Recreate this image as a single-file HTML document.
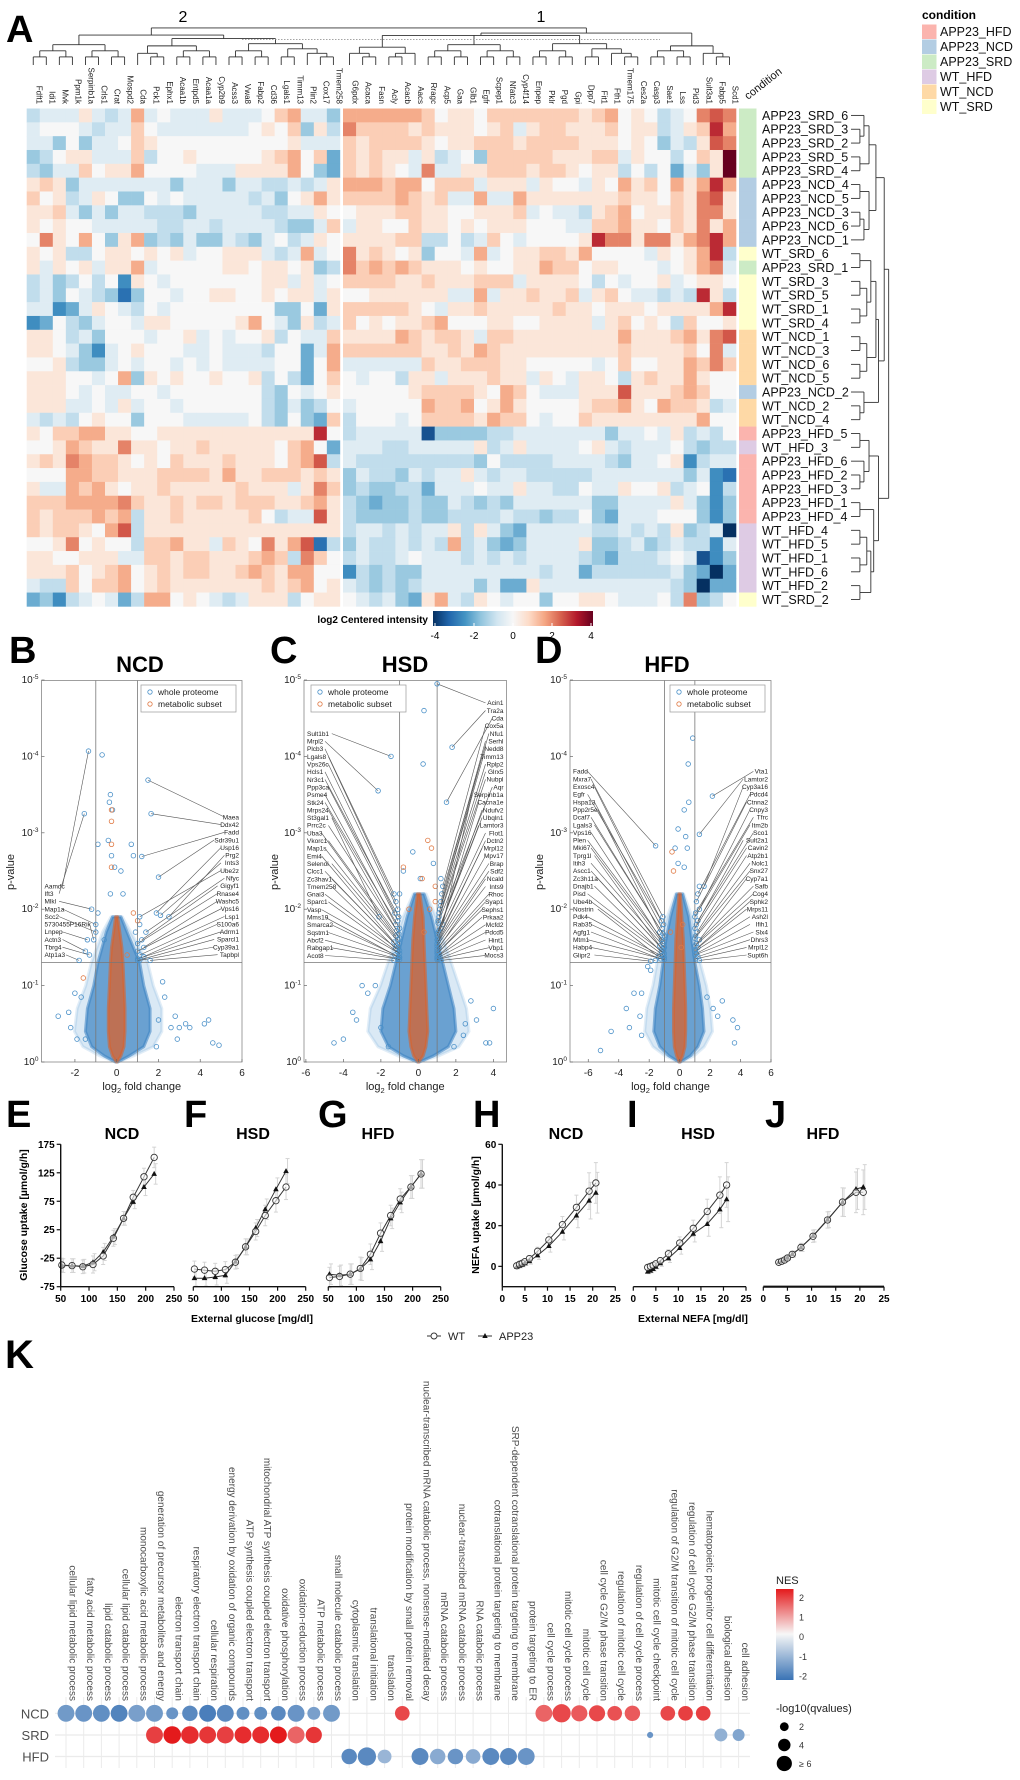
<!DOCTYPE html>
<html><head><meta charset="utf-8"><title>Figure</title>
<style>
html,body{margin:0;padding:0;background:#fff;}
svg{display:block;font-family:"Liberation Sans",Arial,sans-serif;}
</style></head>
<body>
<svg id="fig" xmlns="http://www.w3.org/2000/svg" width="1020" height="1780" viewBox="0 0 1020 1780">
<rect x="0" y="0" width="1020" height="1780" fill="#fff"/>
</svg>
<script>
// ================= DATA =================
// Heatmap (A): letters encode log2 centered intensity: I=0, each letter step = 0.5 (A=-4, Q=4)
const hmLeftCols = ["Fdft1","Idi1","Mvk","Ppm1k","Serpinb1a","Crls1","Crat","Mospd2","Cda","Pck1","Ephx1","Acaa1b","Entpd5","Acaa1a","Cyp2b9","Acss3","Vwa8","Fabp2","Cd36","Lgals1","Timm13","Plin2","Cox17","Tmem258"];
const hmRightCols = ["G6pdx","Acaca","Fasn","Acly","Acacb","Aacs","Rragc","Acp5","Gaa","Glb1","Egfr","Scpep1","Nfatc3","Cyp4f14","Enpep","Pklr","Pgd","Gpi","Dpp7","Fit1","Fth1","Tmem175","Ces2a","Casp3","Sae1","Lss","Pid3","Sult3a1","Fabp5","Scd1"];
const hmRowLabels = ["APP23_SRD_6","APP23_SRD_3","APP23_SRD_2","APP23_SRD_5","APP23_SRD_4","APP23_NCD_4","APP23_NCD_5","APP23_NCD_3","APP23_NCD_6","APP23_NCD_1","WT_SRD_6","APP23_SRD_1","WT_SRD_3","WT_SRD_5","WT_SRD_1","WT_SRD_4","WT_NCD_1","WT_NCD_3","WT_NCD_6","WT_NCD_5","APP23_NCD_2","WT_NCD_2","WT_NCD_4","APP23_HFD_5","WT_HFD_3","APP23_HFD_6","APP23_HFD_2","APP23_HFD_3","APP23_HFD_1","APP23_HFD_4","WT_HFD_4","WT_HFD_5","WT_HFD_1","WT_HFD_6","WT_HFD_2","WT_SRD_2"];
const hmLeft = [
"G H H H J H G H L H I H H H J H H H I K L H H F",
"H I I I H G H H K I H H H H H H H I J I K F J G",
"H H F I F H H I K J I I I I I I I I I I J H H H",
"F G I J J H H H K G I I J I I I I I J K L I K E",
"G F H H K I J J L I I I I H H H J J J J L I F E",
"J K J F H H H H H H H F H H H F H H G G H G H J",
"K I J G H J I F F I H I H H H H H G H F I J L J",
"J J K H F H F H H G G G F H H H H H G G H H J I",
"J I J I I H H H H H G G H H G H H H H G F F H K",
"I M J I L I F J L F G F H F F H G F H I G H J I",
"J I J G G I J J I J I J H I I J J J H G H L H I",
"J H J I J H J J L H I I I I I J J I J J I J F G",
"G H F G I G I D J I H I I I I I I I J J H J H I",
"G H F I H G F C F I I H I I J J I I J I J J H J",
"H H D E H J I H G I H I I I I I I I I F F I E J",
"D E I G F H I I H J J I I I I I J L I H F J G H",
"J J I G H F I I I H I I J H I H I I J G I H H K",
"J J I H F D H I J I I I H H I H H H G I I E H L",
"I I J G F F H I H I I H I H I H H H H I I E I L",
"J J J I I H I L F J I J I I J I I J G I G E I K",
"J J J I H I H H I I H I I I I I I I G F I H I J",
"J J J H H I H J H I I H I I I I I I G F H F G I",
"H G H G I J I I F I I I H H H H H I G F I F E K",
"J I K K L L J J I I J J J J J J J J J J J J O I",
"I I J L K J J M J J I J J K J J J J J I K L I E",
"J K J M L K K J I J I K J J J K J J J I K L N G",
"I I I L L K K J J J K K K K J L J J K K K J K J",
"J H H L K L J I J J K J J J J J K J J J H J M K",
"K K K L L L L M K J J K J K K J K K K J J K L J",
"K J K K K L K L G J J K J J J J J K I G H H N J",
"K J K K J I L N G J J J J J J J J J J J J J J J",
"I I J M I J I I G K K L J J H K J I M J L N C G",
"J J I I J J J H H K K J K K J J J K L K G M K I",
"J J J K I J K L I J K J K K J J K L K J L L I I",
"H G G K I K K L I J K J J J J J J J K J K L I J",
"E F D G H I H E G L L I J I H G H J J J G I J J"];
const hmRight = [
"L L L L L L K I J J I K K K K K K K J K L I J I G H I M N M",
"M K K K K J K J J J I J K H J K K J J J K I J J G H J K O L",
"K J K K K K J I J J K K K J K K K K J J J I J I F H G J N M",
"K J K J J H J G H I F K K K K K J J J K K H J I I G I K J Q",
"K J K J I H M H H J J K K K J K K J I J J G I G I E H F J Q",
"L L L K L L I K K K H J J J H J I I H J I L J K I L J L O L",
"K K K K L K J K H H L H H L J J J J J J J K J J I K J M N J",
"I J J J K K J J I I J J J K H I H H G J K L I J J K J M M J",
"H J J I I K J J I J I J J J I I I H H K K L J J I K J M J L",
"J J J J K K G G I G H K I H I I I I J O M M J M M J L M O L",
"M J K J I J F I I H L H I J J K K J L I I I I H J I J L O G",
"M K L K L K J J J I J I I J J L K K I J J I I I H I J L M H",
"K K K K J J K J J J K K K H J J J J I G I H I I J H I J J I",
"I I J J J J J J H H L H J J K J J K H J K I H H G H G O J G",
"K K K K K J I H J J K J J J J J K J J I J J J I J J J J L O",
"K I J I J J K L I I I J J I I J J J J H J K I J I G K I I J",
"J J J J L K J K K J H K K J J J J J J J J L J J J K L J M N",
"K K K K K K J J K J L K J J J J J J J J J K J J J J K I M H",
"H H H H H H K J J K K K J J I I I I I H I K I I J J L K M K",
"I H I I G J J H J J J K J J H J I H J J I G J K J J L J I I",
"I I I I I J K K K K J I L K I H H H J J J N J J J K L K I I",
"H I I I I I L K K L I J L J I I I I J K K L J I L K K J G H",
"G I I I H I K K K K J L K K I H I I K J J J J J J J J L I I",
"G H H H H H B F F F F G G H H H H H H H F H H I H J G H G I",
"H H H G G H H H H H J G H J H H H H I J H G H H H I G F G G",
"H G G G G G G G G G F I G G G G H H H H G F H H I J D G H H",
"F H G G F H G H H J H G H H G G G G G H H H H H H H F H D C",
"F G F F G G E H H H I H H J H H G G I H H J I I J G H I D G",
"G F E F F G F F H G F G F H H H H H H F F H H H H J H F D F",
"G F F F F G F F G G G G H G G F G G I F E H H H I I I F D F",
"G H H G H G H H J G J H F E H H H H H G G H G H G J F G H A",
"F H G G H G H G L G H F E F H H H H J F F G H F G H G G D H",
"G H G G H I H H H G H G H G H H H H G F E G G G H I H B D F",
"D G F G F F H H H H H H H H H G H H E G G G G G G H F E A E",
"H G F G F G H H H H F H E E J H H H H H H H H H H G F A E E",
"I H G H F E J L H G J I H I I F I I J J I H H H I G M F G I"];
const conditionNames = ["APP23_HFD","APP23_NCD","APP23_SRD","WT_HFD","WT_NCD","WT_SRD"];
const conditionColors = ["#fbb4ae","#b3cde3","#ccebc5","#decbe4","#fed9a6","#ffffcc"];
const hmColTree = [[[[[0,1],[2,3]],[[4,5],[6,7]]],[[[8,[9,10]],[[11,12],[13,14]]],[[[15,16],[17,18]],[[19,20],[21,[22,23]]]]]],
  [[[[24,[25,26]],[[27,28],29]],[[[30,31],[32,33]],[[34,35],[36,37]]],[[[38,39],[40,41]],[[42,43],[44,[45,46]]]]],[[[47,48],[49,50]],[51,[52,53]]]]];
const hmRowTree = [[[[[0,[1,2]],[3,4]],[[5,6],[[7,8],9]]],[[[[10,11],[[12,13],[14,15]]],[[16,17],[18,19]]],[20,[21,22]]]],[[[23,24],[25,[26,27]]],[[28,29],[[[30,31],[32,33]],[34,35]]]]];

// Volcano B (NCD)
const bCoreNlp = [0,0.08,0.2,0.4,0.7,1.0,1.3,1.5,1.7,1.9];
const bCoreLo = [-0.05,-0.6,-1.2,-1.5,-1.4,-1.1,-0.9,-0.7,-0.5,-0.2];
const bCoreHi = [0.05,0.6,1.3,1.6,1.6,1.3,1.1,0.8,0.5,0.2];
const bMetLo = [-0.02,-0.2,-0.35,-0.4,-0.4,-0.35,-0.3,-0.25,-0.15,-0.05];
const bMetHi = [0.02,0.2,0.35,0.4,0.4,0.35,0.3,0.25,0.15,0.05];
const bOutFc = [-0.7,-0.3,-0.35,-0.2,-0.4,-0.9,-0.25,0.7,0.8,-0.1,0.2,-0.3,0.3,-0.9,1.1,-0.6,0.9,2.2,-2.0,-2.8,-2.3,-1.7,3.3,4.2,4.4,4.6,4.9,2.6,3.0,2.9,2.3,-1.9,-1.5,1.9,2.8,3.5,-2.2,2.0];
const bOutNlp = [4.02,3.5,3.4,3.3,2.9,2.85,2.7,2.85,2.7,2.55,2.5,2.2,2.2,1.95,1.8,1.6,1.7,1.05,0.9,0.6,0.65,0.85,0.5,0.5,0.55,0.25,0.22,0.45,0.45,0.3,0.85,0.3,0.3,0.2,0.6,0.45,0.45,0.55];
const bMetOutFc = [-0.25,-0.25,-0.25,-0.25,0.8,1.0,-1.6,0.5];
const bMetOutNlp = [3.3,3.15,2.85,2.55,1.95,1.85,1.1,1.4];
const bLabR = ["Maea","Ddx42","Fadd","Sdr39u1","Usp16","Prg2","Ints3","Ube2z","Nfyc","Gigyf1","Rnase4","Washc5","Vps16","Lsp1","S100a6","Adrm1","Sparcl1","Cyp39a1","Tapbpl"];
const bLabRFc = [1.5,1.65,1.2,2.0,1.9,2.5,2.1,1.1,1.4,1.2,1.0,1.3,1.0,1.1,1.3,1.0,1.0,1.1,1.6];
const bLabRNlp = [3.69,3.25,2.69,2.42,1.95,1.9,1.92,1.9,1.7,1.6,1.55,1.5,1.45,1.4,1.38,1.35,1.33,1.33,1.33];
const bLabL = ["Aamdc","Ift3","Mlkl","Map1a","Scc2","5730455P16Rik","Lnpep","Actn3","Tbrg4","Atp1a3"];
const bLabLFc = [-1.35,-1.55,-1.2,-1.0,-1.0,-1.1,-1.4,-1.5,-1.3,-1.8];
const bLabLNlp = [4.07,3.25,2.0,1.8,1.7,1.6,1.6,1.45,1.4,1.33];

// Volcano C (HSD)
const cCoreNlp = [0,0.08,0.2,0.4,0.7,1.0,1.3,1.6,1.9,2.2];
const cCoreLo = [-0.05,-0.8,-1.6,-2.0,-1.9,-1.5,-1.2,-0.9,-0.6,-0.2];
const cCoreHi = [0.05,0.8,1.6,2.0,1.9,1.6,1.3,1.0,0.7,0.3];
const cMetLo = [-0.02,-0.25,-0.4,-0.5,-0.45,-0.4,-0.35,-0.3,-0.2,-0.05];
const cMetHi = [0.02,0.25,0.4,0.5,0.45,0.4,0.35,0.3,0.25,0.08];
const cOutFc = [0.3,0.25,-0.3,0.1,-0.8,0.8,1.2,-1.0,-2.7,-3.3,-4.0,-4.5,3.6,3.8,3.1,4.0,2.5,-2.3,-3.0,-2.0,2.8,-1.6,1.9,-3.5,2.4];
const cOutNlp = [4.6,3.9,2.75,2.4,2.5,2.6,2.4,2.2,0.9,0.55,0.3,0.25,0.25,0.25,0.55,0.7,0.5,1.0,1.0,0.45,0.8,0.2,0.2,0.65,0.35];
const cMetOutFc = [0.5,0.7,-0.8,0.2,0.9,0.9,0.6,-0.5,0.3];
const cMetOutNlp = [2.9,2.8,2.55,2.4,2.3,2.1,2.0,2.0,1.7];
const cLabR = ["Acin1","Tra2a","Cda","Cox5a","Nfu1","Serhl","Nedd8","Timm13","Rplp2","Glrx5","Nubpl","Aqr","Serpinb1a","Cacna1e","Ndufv2","Ubqln1","Lamtor3","Flot1","Dctn2","Mrpl12","Mpv17","Brap","Sdf2","Ncald","Ints9","Rhoc","Syap1","Sephs1","Prkaa2","Mcfd2","Pdcd5","Hint1","Vbp1","Mocs3"];
const cLabRFc = [1.0,1.8,1.5,1.3,1.25,1.2,1.2,1.15,1.1,1.1,1.05,1.05,1.3,1.2,1.1,1.05,1.0,1.0,1.1,1.0,1.05,1.0,1.0,1.1,1.0,1.0,1.05,1.0,1.1,1.0,1.0,1.1,1.0,1.2];
const cLabRNlp = [4.95,4.12,3.4,2.3,2.2,2.1,2.05,2.0,1.95,1.9,1.85,1.82,1.8,1.75,1.72,1.7,1.68,1.65,1.62,1.6,1.58,1.55,1.52,1.5,1.48,1.45,1.43,1.42,1.4,1.38,1.36,1.35,1.34,1.33];
const cLabL = ["Sult1b1","Mrpl2","Plcb3","Lgals8","Vps26c","Hcls1","Nr3c1","Ppp3ca","Psme4","Stk24","Mrps24","St3gal1","Prrc2c","Uba3","Vkorc1","Map1s","Emi4","Selenoi","Clcc1","Zc3hav1","Tmem258","Gnai3","Sparc1","Vasp","Mms19","Smarca2","Sqstm1","Abcf2","Rabgap1","Acot8"];
const cLabLFc = [-1.46,-2.15,-1.3,-1.2,-1.1,-1.25,-1.05,-1.1,-1.2,-1.0,-1.15,-2.1,-1.05,-1.2,-1.0,-1.1,-1.3,-1.0,-1.15,-1.05,-1.2,-1.0,-1.1,-1.0,-1.25,-1.05,-1.0,-1.1,-1.0,-1.3];
const cLabLNlp = [4.0,3.55,2.2,2.1,2.0,1.95,1.9,1.85,1.8,1.75,1.72,1.9,1.68,1.65,1.62,1.6,1.57,1.55,1.52,1.5,1.48,1.46,1.44,1.42,1.4,1.38,1.37,1.35,1.34,1.33];

// Volcano D (HFD)
const dCoreNlp = [0,0.08,0.2,0.4,0.7,1.0,1.3,1.6,1.9,2.2];
const dCoreLo = [-0.05,-0.7,-1.3,-1.7,-1.6,-1.3,-1.1,-0.9,-0.6,-0.2];
const dCoreHi = [0.05,0.7,1.2,1.6,1.5,1.3,1.0,0.8,0.6,0.2];
const dMetLo = [-0.02,-0.2,-0.35,-0.4,-0.4,-0.35,-0.3,-0.25,-0.15,-0.05];
const dMetHi = [0.02,0.2,0.35,0.4,0.4,0.35,0.3,0.25,0.15,0.05];
const dOutFc = [0.86,0.56,0.6,0.3,-0.1,0.4,-0.3,0.5,-0.1,0.3,1.3,-5.2,-3.3,-3.5,-4.5,3.5,3.8,2.5,2.8,-2.5,-3.0,-1.9,-2.1,-2.6,1.8,2.2,3.6,-2.5];
const dOutNlp = [4.24,3.9,3.4,3.3,3.05,2.95,2.8,2.8,2.6,2.55,2.3,0.15,0.45,0.7,0.4,0.55,0.45,0.6,0.8,0.9,0.9,1.2,1.25,0.6,0.85,0.7,0.25,0.35];
const dMetOutFc = [-0.5,-0.4,0.2,-0.6,0.1];
const dMetOutNlp = [2.75,2.5,1.8,1.7,1.5];
const dLabL = ["Fadd","Mxra7","Exosc4","Egfr","Hspa13","Ppp2r5e","Dcaf7","Lgals3","Vps16","Plen","Mki67","Tprg1l","Itih3","Ascc1","Zc3h11a","Dnajb1","Pisd","Ube4b","Nostrin","Pdk4","Rab35","Agfg1","Mtm1","Habp4","Glipr2"];
const dLabLFc = [-1.58,-1.1,-1.2,-1.05,-1.15,-1.3,-1.1,-1.0,-1.2,-1.05,-1.1,-1.3,-1.0,-1.15,-1.05,-1.2,-1.0,-1.1,-1.4,-1.0,-1.05,-1.25,-1.0,-1.6,-1.9];
const dLabLNlp = [2.83,1.9,1.85,1.8,1.75,1.7,1.68,1.65,1.6,1.58,1.55,1.52,1.5,1.48,1.46,1.44,1.42,1.4,1.38,1.37,1.36,1.35,1.34,1.33,1.32];
const dLabR = ["Vta1","Lamtor2","Cyp3a16","Pdcd4","Ctnna2","Cnpy3","Tfrc","Itm2b","Sco1","Sult2a1","Cavin2","Atp2b1","Nolc1","Snx27","Cyp7a1","Safb","Cog4","Sphk2","Mrps11","Ash2l","Ifih1","Slx4","Dhrs3","Mrpl12","Supt6h"];
const dLabRFc = [2.15,1.3,1.6,1.2,1.1,1.3,1.05,1.0,1.2,1.1,1.0,1.15,1.05,1.0,1.3,1.1,1.0,1.2,1.05,1.0,1.1,1.0,1.2,1.05,1.3];
const dLabRNlp = [3.48,2.98,2.3,2.2,2.1,2.0,1.95,1.9,1.85,1.8,1.75,1.7,1.65,1.62,1.6,1.55,1.52,1.5,1.47,1.45,1.42,1.4,1.38,1.35,1.33];

// Uptake panels E-J
const glucoseX = [52,70,89,107,125,143,161,178,197,215];
const eWT = [-37,-38,-40,-36,-21,10,45,82,118,152];
const eAPP = [-38,-38,-39,-32,-14,13,45,74,100,123];
const eErr = [12,12,12,15,15,14,12,12,15,18];
const fWT = [-44,-46,-48,-45,-32,-5,22,50,76,100];
const fAPP = [-60,-60,-58,-55,-31,-5,28,61,96,128];
const fErr = [14,14,14,14,12,14,15,18,20,22];
const gWT = [-59,-57,-53,-43,-18,19,50,79,100,123];
const gAPP = [-53,-55,-53,-44,-27,5,45,73,100,123];
const gErr = [18,18,18,20,18,18,18,18,20,25];
const nefaX = [3.2,3.8,4.4,5.0,6.0,7.8,10.3,13.3,16.4,19.2,20.7];
const hWT = [0.3,1,1.5,2.3,3.8,7.4,13,20.5,29,37,41];
const hAPP = [-0.2,0.3,0.8,1.5,2.6,5.4,10,17,25,32.3,36.2];
const hErr = [1,1,1,1,1.5,2,3,4,6,9,10];
const iWT = [-0.5,0,0.5,1.3,2.8,6.2,11.5,18.7,27,35,40];
const iAPP = [-2.6,-2.1,-1.3,-0.2,1.5,3.9,9,16,20.8,28,33];
const iErr = [1,1,1,1,1.5,2,3,4,6,9,11];
const jWT = [2,2.5,3.1,4.1,5.9,9.3,14.8,22.8,31.6,36.4,36.4];
const jAPP = [2.1,2.6,3.3,4.3,6,9.3,15,23,31.5,38,39];
const jErr = [0.5,0.5,0.8,1,1.5,2,3,4,7,10,11];
const glucoseTicksY = [-75,-25,25,75,125,175];
const glucoseTicksX = [50,100,150,200,250];
const nefaTicksY = [0,20,40,60];
const nefaTicksX = [0,5,10,15,20,25];

// GSEA dot plot (K)
const goTerms = ["cellular lipid metabolic process","fatty acid metabolic process","lipid catabolic process","cellular lipid catabolic process","monocarboxylic acid metabolic process","generation of precursor metabolites and energy","electron transport chain","respiratory electron transport chain","cellular respiration","energy derivation by oxidation of organic compounds","ATP synthesis coupled electron transport","mitochondrial ATP synthesis coupled electron transport","oxidative phosphorylation","oxidation-reduction process","ATP metabolic process","small molecule catabolic process","cytoplasmic translation","translational initiation","translation","protein modification by small protein removal","nuclear-transcribed mRNA catabolic process, nonsense-mediated decay","mRNA catabolic process","nuclear-transcribed mRNA catabolic process","RNA catabolic process","cotranslational protein targeting to membrane","SRP-dependent cotranslational protein targeting to membrane","protein targeting to ER","cell cycle process","mitotic cell cycle process","mitotic cell cycle","cell cycle G2/M phase transition","regulation of mitotic cell cycle","regulation of cell cycle process","mitotic cell cycle checkpoint","regulation of G2/M transition of mitotic cell cycle","regulation of cell cycle G2/M phase transition","hematopoietic progenitor cell differentiation","biological adhesion","cell adhesion"];
const dietRows = ["NCD","SRD","HFD"];
const ncdNes = [-1.7,-1.8,-1.9,-2.1,-1.6,-1.7,-1.8,-2.0,-2.2,-2.0,-1.9,-1.9,-2.0,-1.8,-1.6,-1.7,null,null,null,1.9,null,null,null,null,null,null,null,1.6,1.9,1.7,1.9,1.8,1.7,null,1.9,2.0,2.0,null,null];
const ncdQ = [6,6,6,6,6,6,3,5,6,6,3.5,3.5,4.5,6,3.5,6,null,null,null,4.5,null,null,null,null,null,null,null,6,7,5.5,5.5,4.5,5,null,4.5,4.5,4.5,null,null];
const srdNes = [null,null,null,null,null,2.0,2.4,2.2,2.1,2.0,2.2,2.2,2.4,1.6,2.1,null,null,null,null,null,null,null,null,null,null,null,null,null,null,null,null,null,null,-1.8,null,null,null,-1.3,-1.5];
const srdQ = [null,null,null,null,null,6,6.5,6.5,6,6,6,6,6,6,5.5,null,null,null,null,null,null,null,null,null,null,null,null,null,null,null,null,null,null,0.8,null,null,null,3.5,3];
const hfdNes = [null,null,null,null,null,null,null,null,null,null,null,null,null,null,null,null,-2.0,-2.0,-1.2,null,-2.0,-1.4,-1.8,-1.4,-2.0,-2.0,-1.8,null,null,null,null,null,null,null,null,null,null,null,null];
const hfdQ = [null,null,null,null,null,null,null,null,null,null,null,null,null,null,null,null,5,7,4,null,6,5,5,4.5,6,6,6,null,null,null,null,null,null,null,null,null,null,null,null];
const nesTicks = [2,1,0,-1,-2];
const qLegend = [2,4,6];
const qLegendLabels = ["2","4","\u2265 6"];

// ================= RENDER =================
const NS = "http://www.w3.org/2000/svg";
const svg = document.getElementById("fig");
function mk(tag, parent) { const e = document.createElementNS(NS, tag); (parent || svg).appendChild(e); return e; }
function setA(e, o) { for (const k in o) e.setAttribute(k, o[k]); return e; }
function grp(name) { const g = mk("g");   return g; }
function txt(parent, x, y, s, size, extra) {
  const t = mk("text", parent); setA(t, { x: x, y: y, "font-size": size, fill: "#000" }); if (extra) setA(t, extra); t.textContent = s; return t;
}
function line(parent, x1, y1, x2, y2, stroke, w) {
  const l = mk("line", parent); setA(l, { x1: x1, y1: y1, x2: x2, y2: y2, stroke: stroke, "stroke-width": w }); return l;
}
function hex2rgb(h) { return [parseInt(h.substr(1, 2), 16), parseInt(h.substr(3, 2), 16), parseInt(h.substr(5, 2), 16)]; }
function interp(stops, cols, v) {
  if (v <= stops[0]) return cols[0]; if (v >= stops[stops.length - 1]) return cols[cols.length - 1];
  for (let i = 0; i < stops.length - 1; i++) if (v <= stops[i + 1]) {
    const t = (v - stops[i]) / (stops[i + 1] - stops[i]); const a = hex2rgb(cols[i]), b = hex2rgb(cols[i + 1]);
    return "rgb(" + a.map((c, k) => Math.round(c + (b[k] - c) * t)).join(",") + ")";
  }
}
const rdbuStops = [-4, -3.2, -2.4, -1.6, -0.8, 0, 0.8, 1.6, 2.4, 3.2, 4];
const rdbuCols = ["#053061", "#2166ac", "#4393c3", "#92c5de", "#d1e5f0", "#f7f7f7", "#fddbc7", "#f4a582", "#d6604d", "#b2182b", "#67001f"];
function hmColor(v) { return interp(rdbuStops, rdbuCols, v); }

// ---------- Panel A ----------
const gA = grp("panel-a-heatmap");
txt(gA, 6, 42, "A", 38, { "font-weight": "bold" });
const hmTop = 108.5, rowH = 13.83;
function colX(c) { return c < 24 ? 26.7 + 13.05 * c : 343 + 13.1 * (c - 24); }
function colCx(c) { return colX(c) + 6.55; }
function rowCy(r) { return hmTop + rowH * (r + 0.5); }
const allCols = hmLeftCols.concat(hmRightCols);
const cellsG = mk("g", gA);


for (let r = 0; r < hmRowLabels.length; r++) {
  let codes = hmLeft[r].split(" ").slice(0, 24); while (codes.length < 24) codes.push("I");
  let codesR = hmRight[r].split(" ").slice(0, 30); while (codesR.length < 30) codesR.push("I");
  codes = codes.concat(codesR);
  for (let c = 0; c < codes.length; c++) {
    const v = (codes[c].charCodeAt(0) - 73) * 0.5;
    const rc = mk("rect", cellsG);
    setA(rc, { x: colX(c).toFixed(2), y: (hmTop + rowH * r).toFixed(2), width: (c < 24 ? 13.05 : 13.1) + 0.3, height: rowH + 0.3, fill: hmColor(v) });
    
    
  }
}
for (let c = 0; c < allCols.length; c++) {
  const t = txt(gA, 0, 0, allCols[c], 8, { transform: "translate(" + (colCx(c) + 3).toFixed(1) + ",104) rotate(90)", "text-anchor": "end", fill: "#222" });
  
  
}
for (let r = 0; r < hmRowLabels.length; r++) {
  const lab = hmRowLabels[r]; const cond = lab.substring(0, lab.lastIndexOf("_"));
  const rc = mk("rect", gA);
  setA(rc, { x: 739, y: (hmTop + rowH * r).toFixed(2), width: 17.5, height: rowH + 0.3, fill: conditionColors[conditionNames.indexOf(cond)] });
  
  
  const t = txt(gA, 762, rowCy(r) + 4.5, lab, 12.5, { fill: "#111" });
  
  
}
const condT = txt(gA, 0, 0, "condition", 11, { transform: "translate(748,100) rotate(-38)", fill: "#111" });


function treeSize(n) { return Array.isArray(n) ? n.reduce((s, k) => s + treeSize(k), 0) : 1; }
function drawColTree(n, g) {
  if (!Array.isArray(n)) return { p: colCx(n), h: 65 };
  const kids = n.map(k => drawColTree(k, g));
  const h = 63 - 6.1 * Math.log2(treeSize(n));
  kids.forEach(k => line(g, k.p, k.h, k.p, h, "#333", 0.9));
  const ps = kids.map(k => k.p);
  line(g, Math.min(...ps), h, Math.max(...ps), h, "#333", 0.9);
  return { p: (Math.min(...ps) + Math.max(...ps)) / 2, h: h };
}
const gColDend = mk("g", gA);


drawColTree(hmColTree, gColDend);
const dotted = line(gA, 242, 39.5, 660, 39.5, "#888", 0.8); dotted.setAttribute("stroke-dasharray", "1.5,1.5");

function drawRowTree(n, g) {
  if (!Array.isArray(n)) return { p: rowCy(n), h: 851 };
  const kids = n.map(k => drawRowTree(k, g));
  const h = 853 + 6.9 * Math.log2(treeSize(n));
  kids.forEach(k => line(g, k.h, k.p, h, k.p, "#333", 0.9));
  const ps = kids.map(k => k.p);
  line(g, h, Math.min(...ps), h, Math.max(...ps), "#333", 0.9);
  return { p: (Math.min(...ps) + Math.max(...ps)) / 2, h: h };
}
const gRowDend = mk("g", gA);


drawRowTree(hmRowTree, gRowDend);
txt(gA, 183, 22, "2", 16, { "text-anchor": "middle" });
txt(gA, 541, 22, "1", 16, { "text-anchor": "middle" });
const gLeg = grp("condition-legend");
txt(gLeg, 922, 19, "condition", 12, { "font-weight": "bold" });
for (let i = 0; i < conditionNames.length; i++) {
  const rc = mk("rect", gLeg); setA(rc, { x: 922, y: 24.5 + 15 * i, width: 14.5, height: 14.5, fill: conditionColors[i] });
  
  
  const t = txt(gLeg, 940, 36 + 15 * i, conditionNames[i], 12.5, { fill: "#111" });
  
  
}
const gCb = grp("heatmap-colorbar");
const defs = mk("defs");
const lg = mk("linearGradient", defs); setA(lg, { id: "rdbu", x1: "0", x2: "1", y1: "0", y2: "0" });
for (let i = 0; i < rdbuStops.length; i++) { const s = mk("stop", lg); setA(s, { offset: ((rdbuStops[i] + 4) / 8 * 100) + "%", "stop-color": rdbuCols[i] }); }
const cbr = mk("rect", gCb); setA(cbr, { x: 433, y: 611, width: 160, height: 15, fill: "url(#rdbu)" });

txt(gCb, 428, 623, "log2 Centered intensity", 10, { "text-anchor": "end", "font-weight": "bold" });
[-4, -2, 0, 2, 4].forEach(v => {
  const x = 435 + (v + 4) * 19.5;
  line(gCb, x, 623, x, 626, "#fff", 1);
  const t = txt(gCb, x, 639, String(v), 10, { "text-anchor": "middle" });
  
});

// ---------- Volcano plots B, C, D ----------
function volcano(cfg) {
  const g = grp(cfg.name);
  const y0 = 680.5, y1 = 1062;
  const sx = v => cfg.x0 + (v - cfg.dmin) / (cfg.dmax - cfg.dmin) * (cfg.x1 - cfg.x0);
  const sy = nlp => y1 - nlp * 76.4;
  txt(g, cfg.letterX, 663, cfg.letter, 38, { "font-weight": "bold" });
  txt(g, cfg.titleX, 672, cfg.title, 22, { "font-weight": "bold", "text-anchor": "middle" });
  function poly(nlp, lo, hi, fill, op, name) {
    const pts = [];
    for (let i = 0; i < nlp.length; i++) pts.push(sx(lo[i]).toFixed(1) + "," + sy(nlp[i]).toFixed(1));
    for (let i = nlp.length - 1; i >= 0; i--) pts.push(sx(hi[i]).toFixed(1) + "," + sy(nlp[i]).toFixed(1));
    const p = mk("polygon", g); setA(p, { points: pts.join(" "), fill: fill, "fill-opacity": op, stroke: fill, "stroke-opacity": op * 0.8, "stroke-width": 3, "stroke-linejoin": "round" });
    
    
  }
  poly(cfg.coreNlp, cfg.coreLo.map(v => v * 1.35), cfg.coreHi.map(v => v * 1.35), "#6aa6d6", 0.25, "whole-proteome-halo");
  poly(cfg.coreNlp, cfg.coreLo, cfg.coreHi, "#3a82c2", 0.7, "whole-proteome-density");
  poly(cfg.coreNlp, cfg.metLo, cfg.metHi, "#d9622b", 0.75, "metabolic-subset-density");
  for (let i = 0; i < cfg.outFc.length; i++) {
    const c = mk("circle", g); setA(c, { cx: sx(cfg.outFc[i]).toFixed(1), cy: sy(cfg.outNlp[i]).toFixed(1), r: 2.3, fill: "none", stroke: "#4a90c8", "stroke-width": 0.8 });
    
    
  }
  for (let i = 0; i < cfg.metFc.length; i++) {
    const c = mk("circle", g); setA(c, { cx: sx(cfg.metFc[i]).toFixed(1), cy: sy(cfg.metNlp[i]).toFixed(1), r: 2.3, fill: "none", stroke: "#e07a45", "stroke-width": 0.8 });
    
    
  }
  const fr = mk("rect", g); setA(fr, { x: cfg.x0, y: y0, width: cfg.x1 - cfg.x0, height: y1 - y0, fill: "none", stroke: "#888", "stroke-width": 0.8 });
  
  [-1, 1].forEach(v => { const l = line(g, sx(v), y0, sx(v), y1, "#777", 0.8);  });
  const hl = line(g, cfg.x0, sy(1.301), cfg.x1, sy(1.301), "#777", 0.8); 
  for (let e = 0; e <= 5; e++) {
    const y = sy(e);
    line(g, cfg.x0, y, cfg.x0 + 3, y, "#666", 0.7);
    const t = txt(g, cfg.x0 - 3, y + 3, "10", 10, { "text-anchor": "end", fill: "#222" });
    const ts = mk("tspan", t); setA(ts, { dy: -4, "font-size": 6.5 }); ts.textContent = e === 0 ? "0" : "-" + e;
    
  }
  cfg.ticks.forEach(v => {
    line(g, sx(v), y1, sx(v), y1 - 3, "#666", 0.7);
    const t = txt(g, sx(v), 1076, String(v), 10, { "text-anchor": "middle", fill: "#222" });
    
  });
  const xl = txt(g, (cfg.x0 + cfg.x1) / 2, 1090, "log", 11, { "text-anchor": "middle", fill: "#222" });
  const sub = mk("tspan", xl); setA(sub, { dy: 3, "font-size": 7.5 }); sub.textContent = "2";
  const rest = mk("tspan", xl); setA(rest, { dy: -3 }); rest.textContent = " fold change";
  
  txt(g, 0, 0, "p-value", 11, { transform: "translate(" + cfg.ylabX + ",872) rotate(-90)", "text-anchor": "middle", fill: "#222" });
  function labels(names, fc, nlp, side, yStart) {
    for (let i = 0; i < names.length; i++) {
      const ly = yStart + 7.65 * i; const w = names[i].length * 3.4;
      const lx = side === "L" ? cfg.x0 + 3 : cfg.x1 - 3;
      const t = txt(g, lx, ly + 2.3, names[i], 6.5, { "text-anchor": side === "L" ? "start" : "end", fill: "#222" });
      
      
      const lsx = side === "L" ? lx + w + 1 : lx - w - 1;
      const l = line(g, lsx.toFixed(1), ly.toFixed(1), sx(fc[i]).toFixed(1), sy(nlp[i]).toFixed(1), "#555", 0.6);
      
      const c = mk("circle", g); setA(c, { cx: sx(fc[i]).toFixed(1), cy: sy(nlp[i]).toFixed(1), r: 2.3, fill: "none", stroke: "#4a90c8", "stroke-width": 0.8 });
      
    }
  }
  labels(cfg.labL, cfg.labLFc, cfg.labLNlp, "L", cfg.lStart);
  labels(cfg.labR, cfg.labRFc, cfg.labRNlp, "R", cfg.rStart);
  const lgx = cfg.legX;
  const lr = mk("rect", g); setA(lr, { x: lgx, y: 685, width: 95, height: 27, fill: "#fff", stroke: "#999", "stroke-width": 0.7 });
  
  const c1 = mk("circle", g); setA(c1, { cx: lgx + 9, cy: 692, r: 2.2, fill: "none", stroke: "#4a90c8", "stroke-width": 0.8 });
  
  const c2 = mk("circle", g); setA(c2, { cx: lgx + 9, cy: 704, r: 2.2, fill: "none", stroke: "#e07a45", "stroke-width": 0.8 });
  
  txt(g, lgx + 17, 695, "whole proteome", 8.5, { fill: "#222" });
  txt(g, lgx + 17, 707, "metabolic subset", 8.5, { fill: "#222" });
}
volcano({ name: "panel-b-volcano-ncd", letter: "B", letterX: 9, title: "NCD", titleX: 140, ylabX: 14, x0: 41.5, x1: 242, dmin: -3.6, dmax: 6, ticks: [-2, 0, 2, 4, 6], legX: 141,
  coreNlp: bCoreNlp, coreLo: bCoreLo, coreHi: bCoreHi, metLo: bMetLo, metHi: bMetHi, outFc: bOutFc, outNlp: bOutNlp, metFc: bMetOutFc, metNlp: bMetOutNlp,
  labL: bLabL, labLFc: bLabLFc, labLNlp: bLabLNlp, labR: bLabR, labRFc: bLabRFc, labRNlp: bLabRNlp, lStart: 886, rStart: 817 });
volcano({ name: "panel-c-volcano-hsd", letter: "C", letterX: 270, title: "HSD", titleX: 405, ylabX: 278, x0: 304, x1: 506.5, dmin: -6.1, dmax: 4.7, ticks: [-6, -4, -2, 0, 2, 4], legX: 311,
  coreNlp: cCoreNlp, coreLo: cCoreLo, coreHi: cCoreHi, metLo: cMetLo, metHi: cMetHi, outFc: cOutFc, outNlp: cOutNlp, metFc: cMetOutFc, metNlp: cMetOutNlp,
  labL: cLabL, labLFc: cLabLFc, labLNlp: cLabLNlp, labR: cLabR, labRFc: cLabRFc, labRNlp: cLabRNlp, lStart: 733.6, rStart: 702.9 });
volcano({ name: "panel-d-volcano-hfd", letter: "D", letterX: 535, title: "HFD", titleX: 667, ylabX: 543, x0: 570, x1: 771, dmin: -7.2, dmax: 6, ticks: [-6, -4, -2, 0, 2, 4, 6], legX: 670,
  coreNlp: dCoreNlp, coreLo: dCoreLo, coreHi: dCoreHi, metLo: dMetLo, metHi: dMetHi, outFc: dOutFc, outNlp: dOutNlp, metFc: dMetOutFc, metNlp: dMetOutNlp,
  labL: dLabL, labLFc: dLabLFc, labLNlp: dLabLNlp, labR: dLabR, labRFc: dLabRFc, labRNlp: dLabRNlp, lStart: 771.4, rStart: 771.4 });

// ---------- Uptake line panels E-J ----------
function uptake(cfg) {
  const g = grp(cfg.name);
  const yB = 1286.7, yT = 1144.3;
  const sx = v => cfg.x0 + (v - cfg.dmin) / (cfg.dmax - cfg.dmin) * (cfg.x1 - cfg.x0);
  const sy = v => yB - (v - cfg.ymin) / (cfg.ymax - cfg.ymin) * (yB - yT);
  txt(g, cfg.letterX, 1127, cfg.letter, 38, { "font-weight": "bold" });
  txt(g, cfg.titleX, 1139, cfg.title, 16, { "font-weight": "bold", "text-anchor": "middle" });
  [cfg.wt, cfg.app].forEach(series => {
    for (let i = 0; i < cfg.xs.length; i++) {
      const x = sx(cfg.xs[i]) + (series === cfg.app ? 1.5 : 0);
      const e1 = line(g, x, sy(series[i] - cfg.err[i]), x, sy(series[i] + cfg.err[i]), "#d4d4d4", 1);
      
      line(g, x - 2, sy(series[i] + cfg.err[i]), x + 2, sy(series[i] + cfg.err[i]), "#d4d4d4", 1);
      line(g, x - 2, sy(series[i] - cfg.err[i]), x + 2, sy(series[i] - cfg.err[i]), "#d4d4d4", 1);
    }
  });
  [[cfg.wt, "wt-line"], [cfg.app, "app23-line"]].forEach(([series, nm]) => {
    const pl = mk("polyline", g);
    setA(pl, { points: cfg.xs.map((x, i) => sx(x).toFixed(1) + "," + sy(series[i]).toFixed(1)).join(" "), fill: "none", stroke: "#333", "stroke-width": 1 });
    
    
  });
  for (let i = 0; i < cfg.xs.length; i++) {
    const x = sx(cfg.xs[i]), y = sy(cfg.app[i]);
    const tri = mk("polygon", g); setA(tri, { points: x + "," + (y - 3) + " " + (x - 2.8) + "," + (y + 2) + " " + (x + 2.8) + "," + (y + 2), fill: "#111" });
    
    
    const c = mk("circle", g); setA(c, { cx: x, cy: sy(cfg.wt[i]), r: 3.2, fill: "#fff", "fill-opacity": 0.6, stroke: "#333", "stroke-width": 0.9 });
    
    
  }
  const xa = line(g, cfg.x0, yB, cfg.x1, yB, "#111", cfg.axisW || 1.4); 
  cfg.ticksX.forEach(v => {
    line(g, sx(v), yB, sx(v), yB + 4, "#111", 1.2);
    const t = txt(g, sx(v), 1302, String(v), 10, { "text-anchor": "middle", "font-weight": "bold" });
    
  });
  if (cfg.yaxis) {
    const ya = line(g, cfg.x0, yT, cfg.x0, yB, "#111", 1.4); 
    cfg.ticksY.forEach(v => {
      line(g, cfg.x0 - 4, sy(v), cfg.x0, sy(v), "#111", 1.2);
      const t = txt(g, cfg.x0 - 6, sy(v) + 3.5, String(v), 10, { "text-anchor": "end", "font-weight": "bold" });
      
    });
    txt(g, 0, 0, cfg.ylab, 10.5, { transform: "translate(" + cfg.ylabX + ",1215) rotate(-90)", "text-anchor": "middle", "font-weight": "bold" });
  }
}
uptake({ name: "panel-e-glucose-ncd", letter: "E", letterX: 6, title: "NCD", titleX: 122, x0: 60.7, x1: 174, dmin: 50, dmax: 250, ymin: -75, ymax: 175, xs: glucoseX, wt: eWT, app: eAPP, err: eErr, ticksX: glucoseTicksX, ticksY: glucoseTicksY, yaxis: true, ylab: "Glucose uptake [\u00b5mol/g/h]", ylabX: 27 });
uptake({ name: "panel-f-glucose-hsd", letter: "F", letterX: 184, title: "HSD", titleX: 253, x0: 193.3, x1: 305.7, dmin: 50, dmax: 250, ymin: -75, ymax: 175, xs: glucoseX, wt: fWT, app: fAPP, err: fErr, ticksX: glucoseTicksX });
uptake({ name: "panel-g-glucose-hfd", letter: "G", letterX: 318, title: "HFD", titleX: 378, x0: 328.3, x1: 440.7, dmin: 50, dmax: 250, ymin: -75, ymax: 175, xs: glucoseX, wt: gWT, app: gAPP, err: gErr, ticksX: glucoseTicksX });
uptake({ name: "panel-h-nefa-ncd", letter: "H", letterX: 473, title: "NCD", titleX: 566, x0: 502.3, x1: 615.3, dmin: 0, dmax: 25, ymin: -10, ymax: 60, xs: nefaX, wt: hWT, app: hAPP, err: hErr, ticksX: nefaTicksX, ticksY: nefaTicksY, yaxis: true, ylab: "NEFA uptake [\u00b5mol/g/h]", ylabX: 479 });
uptake({ name: "panel-i-nefa-hsd", letter: "I", letterX: 627, title: "HSD", titleX: 698, x0: 633.3, x1: 746, dmin: 0, dmax: 25, ymin: -10, ymax: 60, xs: nefaX, wt: iWT, app: iAPP, err: iErr, ticksX: nefaTicksX });
uptake({ name: "panel-j-nefa-hfd", letter: "J", letterX: 765, title: "HFD", titleX: 823, x0: 763.3, x1: 884, dmin: 0, dmax: 25, ymin: -10, ymax: 60, xs: nefaX, wt: jWT, app: jAPP, err: jErr, ticksX: nefaTicksX, axisW: 2.2 });
txt(svg, 252, 1322, "External glucose [mg/dl]", 10.5, { "text-anchor": "middle", "font-weight": "bold" });
txt(svg, 693, 1322, "External NEFA [mg/dl]", 10.5, { "text-anchor": "middle", "font-weight": "bold" });
const gUL = grp("uptake-legend");
line(gUL, 427, 1336, 441, 1336, "#333", 1);
const lwc = mk("circle", gUL); setA(lwc, { cx: 434, cy: 1336, r: 3, fill: "#fff", stroke: "#333", "stroke-width": 0.9 });

txt(gUL, 448, 1340, "WT", 11, { fill: "#222" });
line(gUL, 478, 1336, 492, 1336, "#333", 1);
const lat = mk("polygon", gUL); setA(lat, { points: "485,1333 482.3,1338 487.7,1338", fill: "#111" });

txt(gUL, 499, 1340, "APP23", 11, { fill: "#222" });

// ---------- Panel K ----------
const gK = grp("panel-k-gsea-dotplot");
txt(gK, 5, 1368, "K", 40, { "font-weight": "bold" });
const kx = i => 66 + 17.7 * i;
const rowYs = [1713.3, 1735, 1756.5];
const qr = q => 3.45 * Math.sqrt(Math.min(q, 7));
const nesStops = [-2.4, 0, 2.4];
const nesCols = ["#3a73b5", "#f7f7f7", "#e41a1c"];
for (let i = 0; i < goTerms.length; i++) { const l = line(gK, kx(i), 1697, kx(i), 1768, "#ebebeb", 1);  }
rowYs.forEach(y => { const l = line(gK, 55, y, 750, y, "#ebebeb", 1.2);  });
for (let i = 0; i < goTerms.length; i++) {
  const t = txt(gK, 0, 0, goTerms[i], 10, { transform: "translate(" + (kx(i) + 3.5).toFixed(1) + ",1701) rotate(90)", "text-anchor": "end", fill: "#4d4d4d" });
  
  
}
dietRows.forEach((d, r) => { const t = txt(gK, 49, rowYs[r] + 5, d, 13, { "text-anchor": "end", fill: "#4d4d4d" });  });
[[ncdNes, ncdQ], [srdNes, srdQ], [hfdNes, hfdQ]].forEach(([nes, q], r) => {
  for (let i = 0; i < nes.length; i++) {
    if (nes[i] === null) continue;
    const c = mk("circle", gK); setA(c, { cx: kx(i).toFixed(1), cy: rowYs[r], r: qr(q[i]).toFixed(2), fill: interp(nesStops, nesCols, nes[i]) });
    
    
  }
});
const gN = grp("nes-legend");
txt(gN, 776, 1584, "NES", 11, { fill: "#222" });
const lg2 = mk("linearGradient", defs); setA(lg2, { id: "nesg", x1: "0", x2: "0", y1: "1", y2: "0" });
[[0, nesCols[0]], [50.5, nesCols[1]], [100, nesCols[2]]].forEach(([o, c]) => { const s = mk("stop", lg2); setA(s, { offset: o + "%", "stop-color": c }); });
const nb = mk("rect", gN); setA(nb, { x: 776, y: 1589, width: 17.5, height: 91, fill: "url(#nesg)" });

nesTicks.forEach(v => { const t = txt(gN, 799, 1636.7 - v * 19.7 + 3.5, String(v), 9, { fill: "#333" });  });
const gQ = grp("qvalue-size-legend");
txt(gQ, 776, 1712, "-log10(qvalues)", 11, { fill: "#222" });
qLegend.forEach((q, i) => {
  const y = [1726.7, 1745, 1763.5][i];
  const c = mk("circle", gQ); setA(c, { cx: 784.3, cy: y, r: qr(q) * 0.9, fill: "#000" });
  
  const t = txt(gQ, 799, y + 3.5, qLegendLabels[i], 9, { fill: "#333" }); 
});
</script>
</body></html>
